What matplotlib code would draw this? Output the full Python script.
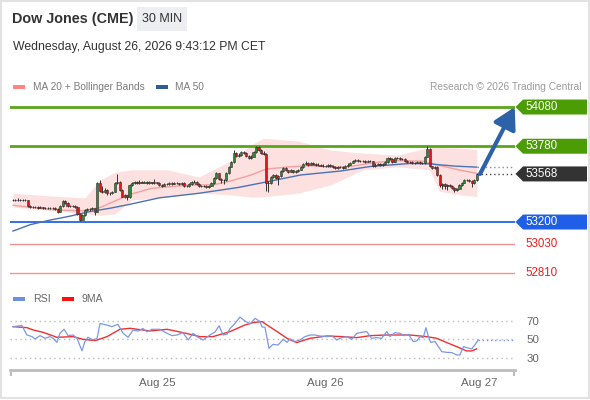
import matplotlib
matplotlib.use('Agg')
import matplotlib.pyplot as plt
from matplotlib.patches import Polygon, Rectangle
from matplotlib.transforms import blended_transform_factory

plt.rcParams['font.family'] = ['Liberation Sans', 'DejaVu Sans']

# --- 30 min candles (bar index 0..187) ---
first_open = 53372
closes = [53370, 53368, 53372, 53369, 53370, 53366, 53326, 53318, 53312, 53315,
          53310, 53314, 53308, 53311, 53306, 53310, 53305, 53300, 53279, 53325,
          53362, 53345, 53325, 53320, 53326, 53318, 53262, 53218, 53255, 53292,
          53300, 53296, 53305, 53280, 53500, 53440, 53430, 53445, 53425, 53420,
          53432, 53497, 53508, 53445, 53395, 53405, 53390, 53483, 53500, 53505,
          53498, 53510, 53502, 53508, 53500, 53505, 53498, 53503, 53500, 53484,
          53478, 53492, 53488, 53497, 53493, 53500, 53495, 53490, 53498, 53472,
          53475, 53490, 53505, 53510, 53490, 53478, 53475, 53472, 53470, 53478,
          53497, 53536, 53573, 53532, 53525, 53520, 53573, 53623, 53661, 53730,
          53705, 53715, 53735, 53728, 53705, 53690, 53700, 53735, 53772, 53750,
          53730, 53722, 53495, 53500, 53545, 53560, 53540, 53550, 53590, 53612,
          53595, 53585, 53595, 53580, 53590, 53600, 53620, 53645, 53655, 53640,
          53650, 53645, 53640, 53635, 53632, 53630, 53628, 53635, 53626, 53622,
          53612, 53618, 53622, 53615, 53625, 53640, 53655, 53668, 53672, 53665,
          53670, 53668, 53662, 53668, 53665, 53628, 53640, 53645, 53638, 53642,
          53660, 53690, 53682, 53662, 53688, 53690, 53685, 53680, 53670, 53662,
          53658, 53650, 53655, 53660, 53652, 53650, 53700, 53761, 53625, 53615,
          53620, 53560, 53483, 53490, 53478, 53485, 53475, 53462, 53442, 53455,
          53480, 53500, 53520, 53525, 53515, 53498, 53520, 53568]
highs = [53378, 53376, 53380, 53378, 53377, 53376, 53370, 53332, 53324, 53322,
         53320, 53320, 53318, 53318, 53316, 53318, 53316, 53312, 53306, 53332,
         53370, 53368, 53350, 53332, 53334, 53330, 53322, 53266, 53262, 53300,
         53310, 53308, 53314, 53310, 53508, 53520, 53478, 53462, 53450, 53432,
         53440, 53505, 53565, 53515, 53450, 53412, 53410, 53490, 53508, 53514,
         53512, 53518, 53516, 53516, 53514, 53512, 53510, 53530, 53510, 53506,
         53490, 53500, 53498, 53505, 53503, 53508, 53506, 53502, 53506, 53505,
         53484, 53498, 53512, 53518, 53515, 53496, 53485, 53482, 53480, 53486,
         53505, 53544, 53580, 53578, 53540, 53532, 53580, 53630, 53670, 53751,
         53738, 53725, 53745, 53742, 53732, 53712, 53710, 53742, 53785, 53778,
         53756, 53740, 53728, 53512, 53552, 53568, 53566, 53560, 53598, 53620,
         53618, 53600, 53602, 53600, 53598, 53608, 53628, 53652, 53665, 53660,
         53658, 53656, 53652, 53648, 53645, 53642, 53640, 53645, 53642, 53635,
         53628, 53626, 53630, 53628, 53634, 53648, 53662, 53676, 53682, 53680,
         53678, 53678, 53674, 53676, 53675, 53670, 53648, 53654, 53652, 53650,
         53668, 53698, 53696, 53688, 53696, 53700, 53698, 53692, 53688, 53676,
         53670, 53664, 53662, 53668, 53666, 53660, 53708, 53780, 53766, 53632,
         53630, 53626, 53566, 53500, 53496, 53492, 53490, 53480, 53468, 53462,
         53488, 53508, 53528, 53532, 53530, 53520, 53528, 53574]
lows = [53362, 53360, 53362, 53362, 53362, 53358, 53318, 53308, 53304, 53305,
        53302, 53304, 53300, 53302, 53298, 53300, 53296, 53290, 53270, 53274,
        53318, 53338, 53318, 53312, 53314, 53310, 53255, 53205, 53212, 53248,
        53286, 53288, 53290, 53256, 53275, 53432, 53420, 53422, 53410, 53405,
        53412, 53428, 53490, 53438, 53388, 53385, 53368, 53385, 53478, 53494,
        53490, 53492, 53495, 53496, 53492, 53494, 53490, 53492, 53492, 53476,
        53470, 53472, 53480, 53482, 53486, 53488, 53488, 53482, 53484, 53465,
        53466, 53470, 53486, 53500, 53484, 53470, 53468, 53465, 53462, 53464,
        53474, 53492, 53530, 53520, 53500, 53490, 53515, 53568, 53618, 53655,
        53698, 53700, 53708, 53720, 53698, 53680, 53684, 53695, 53728, 53742,
        53722, 53712, 53440, 53433, 53494, 53538, 53530, 53480, 53545, 53585,
        53588, 53578, 53580, 53572, 53575, 53585, 53595, 53615, 53640, 53632,
        53635, 53638, 53632, 53628, 53625, 53622, 53620, 53622, 53618, 53615,
        53604, 53606, 53610, 53608, 53610, 53620, 53636, 53650, 53662, 53658,
        53660, 53660, 53655, 53656, 53658, 53620, 53622, 53634, 53630, 53632,
        53638, 53655, 53675, 53655, 53658, 53680, 53678, 53672, 53662, 53655,
        53650, 53642, 53644, 53648, 53645, 53642, 53645, 53695, 53618, 53605,
        53608, 53550, 53470, 53450, 53455, 53445, 53465, 53452, 53433, 53436,
        53450, 53474, 53495, 53512, 53508, 53470, 53492, 53515]
opens = [first_open] + closes[:-1]

# --- indicators, read at sample bars ---
ma20_idx = [0, 15, 28, 35, 47, 56, 70, 81, 88, 96, 102, 112, 120, 129, 136, 144, 153, 165, 171, 180, 187]
ma20_val = [53328, 53295, 53285, 53310, 53410, 53458, 53482, 53485, 53515, 53560, 53605,
            53623, 53631, 53618, 53625, 53649, 53670, 53666, 53636, 53598, 53572]
bb_idx = [0, 11, 19, 29, 35, 41, 48, 62, 75, 89, 96, 101, 115, 128, 141, 155, 168, 172, 181, 187]
bb_upper = [53420, 53405, 53395, 53385, 53520, 53580, 53600, 53600, 53545, 53680, 53790,
            53840, 53820, 53750, 53728, 53712, 53770, 53770, 53766, 53752]
bb_lower = [53315, 53295, 53285, 53262, 53252, 53262, 53368, 53391, 53422, 53406, 53390,
            53393, 53421, 53483, 53598, 53623, 53598, 53435, 53406, 53395]
ma50_idx = [0, 7, 15, 23, 31, 39, 47, 59, 75, 91, 103, 116, 132, 144, 160, 168, 178, 187]
ma50_val = [53131, 53180, 53215, 53245, 53280, 53305, 53335, 53385, 53420, 53465, 53510,
            53560, 53590, 53625, 53648, 53645, 53628, 53620]

resistances = [54080, 53780]
support = 53200
lower_levels = [53030, 52810]
last_price = 53568

rsi_idx = [0, 3.6, 5.6, 7.7, 8.9, 10.9, 12.9, 14.9, 16.1, 17.7, 18.9, 20.6, 22.2, 24.2, 25.8,
           27.8, 29, 30.2, 32.3, 33.9, 35.1, 37.9, 39.9, 42.3, 44.4, 46.4, 48.4, 50.4, 52.4,
           54, 56, 59.3, 61.3, 64.1, 66.1, 68.5, 70.6, 72.6, 74.6, 76.6, 79.4, 81.5, 83.1,
           84.7, 86.3, 87.5, 89.5, 91.5, 93.5, 95.6, 97.6, 99.6, 100.4, 101.6, 103.2, 104.8,
           106.9, 108.9, 110.5,
           111.7, 113.7, 115.7, 117.7, 119.8, 121.8, 123.8, 126.5, 128.5, 130.5, 132.5, 134.5,
           136.6, 138.6, 140.6, 142.6, 144.6, 146.6, 148.6, 150.7, 152, 154, 156, 158, 159.4,
           161.4, 162.8, 164.1, 165.4, 166.5, 167.5, 168.4, 170.2, 171.5, 172.9, 174.9, 176.9,
           178.9, 180.2, 181.6, 182.9, 184.9, 186.2, 187.6]
rsi_val = [63.8, 65, 54.7, 52.9, 50.4, 54, 51.1, 52.9, 51.1, 46.7, 56.5, 60.9, 54, 54.7, 51.1,
           37.5, 47.5, 52.2, 49.3, 51.1, 67.3, 65.5, 63.8, 66.3, 56.5, 52.2, 60, 59, 61.8,
           58.2, 60.9, 60.9, 57.6, 54, 54.7, 57.3, 49.3, 56.5, 52.2, 49.3, 54.7, 58.2, 64.7,
           54.7, 55.5, 61.8, 67.3, 74.2, 70, 66.7, 72.9, 69.3, 63.5, 63.1, 40.2, 44.5,
           43.8, 50, 46.7,
           50.4, 47.5, 49.3, 52.9, 54.7, 54.7, 53.6, 52.9, 54, 49.3, 51.8, 52.9,
           50, 56.5, 57.6, 58.4, 51.1, 51.8, 51.1, 58.4, 52.9, 57.3, 56.5, 54, 55.5,
           47.5, 48.2, 52.9, 51.8, 62.7, 52.9, 46.7, 47.5, 42, 36.5, 35.8, 35.5,
           32.9, 32.9, 42, 40.9, 39.5, 43.8, 49.3]
ma9_idx = [0, 5.6, 8.1, 12.1, 17.7, 24.2, 28.2, 33.1, 37.9, 43.1, 47.2, 55.2, 62.1, 68.5,
           75.4, 80.6, 87.5, 93.5, 96.8, 100.4, 102.4, 106.5, 110.5, 114.4, 119.8, 126.5,
           133.2, 138.6, 144, 150.7, 160, 166.8, 170.8, 174.9, 178.9, 182.9, 184.9, 186.9]
ma9_val = [63.8, 62.7, 60.2, 57.6, 52.2, 52.9, 50, 48.5, 52.9, 60.9, 62, 59.1, 60.9, 57.3,
           52.9, 52.9, 58.4, 65.6, 68.2, 69.3, 65.6, 58.4, 51, 46.4, 51.1, 53.6,
           52.9, 51.8, 54, 54.7, 54.7, 52.9, 51.1, 46.4, 42, 37.3, 37.3, 39.5]
rsi_levels = [30, 50, 70]

date_pos = [58, 126, 188]
date_lab = ['Aug 25', 'Aug 26', 'Aug 27']

W, H = 590, 400
fig = plt.figure(figsize=(W / 100, H / 100), dpi=100)
fig.patch.set_facecolor('white')


def px_axes(x0, y0, x1, y1, **kw):
    return fig.add_axes([x0 / W, 1 - y1 / H, (x1 - x0) / W, (y1 - y0) / H], **kw)


XMIN, XMAX = -1.21, 202.4

# price panel
ax = px_axes(10, 95, 515, 285)
ax.set_xlim(XMIN, XMAX)
ax.set_ylim(52718, 54172)
ax.axis('off')

ax.fill_between(bb_idx, bb_lower, bb_upper, color='#fde0e0', lw=0, zorder=1)
ax.plot(ma20_idx, ma20_val, color='#f3a0a0', lw=1, zorder=2)
ax.plot(ma50_idx, ma50_val, color='#4a72b4', lw=1, zorder=2)
ax.plot([ma50_idx[-1], XMAX], [ma50_val[-1]] * 2, color='#8190aa', lw=1, ls=(0, (1, 2)), zorder=2)
ax.plot([len(closes) - 1, XMAX], [last_price] * 2, color='#444444', lw=1, ls=(0, (1, 2)), zorder=2)

for lv in resistances:
    ax.axhline(lv, color='#5aa61a', lw=2, zorder=1.5)
ax.axhline(support, color='#2563e8', lw=1.3, zorder=1.5)
for lv in lower_levels:
    ax.axhline(lv, color='#f29393', lw=1, zorder=1.5)

idx = list(range(len(closes)))
ax.vlines(idx, lows, highs, color='#333333', lw=0.7, zorder=3)
cols = ['#2b8a36' if c >= o else '#e3141c' for o, c in zip(opens, closes)]
hts = [c - o for o, c in zip(opens, closes)]
ax.bar(idx, hts, bottom=opens, width=0.88, color=cols, edgecolor='#2e2e2e', lw=0.4, zorder=4)

ax.annotate('', xy=(202.3, resistances[0]), xytext=(188.3, last_price),
            arrowprops=dict(arrowstyle='-|>,head_length=0.8,head_width=0.45', lw=3,
                            color='#2d62a8', mutation_scale=16, shrinkA=0, shrinkB=0),
            annotation_clip=False, zorder=6)

# RSI panel
ar = px_axes(10, 308, 515, 370)
ar.set_xlim(XMIN, XMAX)
ar.set_ylim(16.52, 84.13)
for s in ['top', 'left', 'right']:
    ar.spines[s].set_visible(False)
ar.spines['bottom'].set_color('#bdbdbd')
ar.spines['bottom'].set_linewidth(2)
for v in rsi_levels:
    ar.axhline(v, color='#bbbbbb', lw=1, ls=(0, (1, 2.5)), zorder=1)
ar.plot(rsi_idx, rsi_val, color='#7b98e6', lw=0.9, zorder=3)
ar.plot([rsi_idx[-1], XMAX], [rsi_val[-1]] * 2, color='#7b98e6', lw=1, ls=(0, (1, 2)), zorder=3)
ar.plot(ma9_idx, ma9_val, color='#f03030', lw=1, zorder=2)
ar.set_xticks(date_pos)
ar.set_xticklabels(date_lab)
ar.set_xticks([XMIN + 0.3, XMAX - 0.3], minor=True)
ar.tick_params(axis='x', which='major', length=0, pad=6, labelsize=8.25, labelcolor='#666666')
ar.tick_params(axis='x', which='minor', length=4, width=1.5, color='#bdbdbd')
ar.yaxis.tick_right()
ar.set_yticks(rsi_levels)
ar.set_yticklabels([str(v) for v in rsi_levels])
ar.tick_params(axis='y', length=0, pad=8, labelsize=8.25, labelcolor='#666666')
ar.patch.set_visible(False)

# decorations in pixel units
deco = fig.add_axes([0, 0, 1, 1], zorder=10)
deco.set_xlim(0, W)
deco.set_ylim(H, 0)
deco.axis('off')
deco.patch.set_visible(False)

deco.add_patch(Rectangle((0.5, 0.5), W - 1.5, H - 2.5, fill=False, ec='#e2e2e2', lw=1.5))
deco.text(12, 19, 'Dow Jones (CME)', fontsize=10.4, fontweight='bold', color='#333333', va='center')
deco.add_patch(Rectangle((137, 7), 50, 24, color='#eceef1', lw=0))
deco.text(162, 19.5, '30 MIN', fontsize=9, color='#333333', va='center', ha='center')
deco.text(13, 47, 'Wednesday, August 26, 2026 9:43:12 PM CET', fontsize=8.8, color='#333333', va='center')

deco.add_patch(Rectangle((13, 84.5), 12, 4, color='#ff8585', lw=0))
deco.text(33, 86.5, 'MA 20 + Bollinger Bands', fontsize=7.3, color='#7a7a7a', va='center')
deco.add_patch(Rectangle((156, 84.5), 12, 4, color='#2f5d9a', lw=0))
deco.text(175, 86.5, 'MA 50', fontsize=7.3, color='#7a7a7a', va='center')
deco.text(581, 86.5, 'Research \u00a9 2026 Trading Central', fontsize=7.3, color='#9a9a9a',
          va='center', ha='right')

deco.add_patch(Rectangle((13, 297), 12, 4, color='#6d8fe0', lw=0))
deco.text(33, 299, 'RSI', fontsize=7.6, color='#666666', va='center')
deco.add_patch(Rectangle((62, 297), 12, 4, color='#ff1010', lw=0))
deco.text(82, 299, '9MA', fontsize=7.6, color='#666666', va='center')

# level tags on the right, y from the price scale
tr = blended_transform_factory(deco.transData, ax.transData)
half = 7.5 * (54172 - 52718) / 190.0


def tag(price, face, text_col='white'):
    if face is not None:
        pts = [(515.5, price), (523, price - half), (587, price - half),
               (587, price + half), (523, price + half)]
        deco.add_patch(Polygon(pts, closed=True, color=face, lw=0, transform=tr, clip_on=False))
    deco.text(525.5, price, f'{price}', fontsize=8.3, color=text_col, va='center',
              transform=tr, clip_on=False)


for lv in resistances:
    tag(lv, '#4c9c05')
tag(last_price, '#333333')
tag(support, '#1f5fe8')
for lv in lower_levels:
    tag(lv, None, '#ee1c1c')

fig.savefig('out.png', dpi=100)
